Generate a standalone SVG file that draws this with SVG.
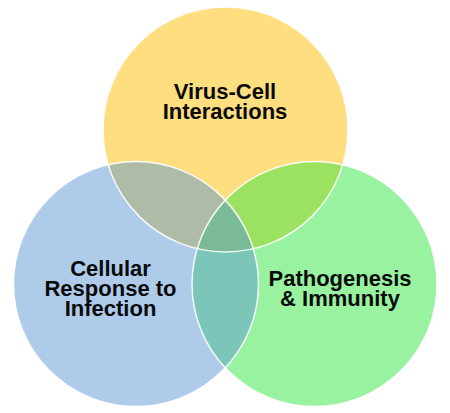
<svg xmlns="http://www.w3.org/2000/svg" width="450" height="413" viewBox="0 0 450 413">
<style>
.lbl{font-family:"Liberation Sans",Arial,sans-serif;font-weight:bold;font-size:22px;fill:#0a0a0a;text-anchor:middle}
.edge{fill:none;stroke:#ffffff;stroke-width:1.5;stroke-opacity:0.9}
</style>
<defs>
<clipPath id="cY"><circle cx="225.5" cy="129.5" r="122.5"/></clipPath>
<clipPath id="cB"><circle cx="136" cy="284" r="122.5"/></clipPath>
<clipPath id="cG"><circle cx="314.5" cy="284" r="122.5"/></clipPath>
</defs>
<rect width="450" height="413" fill="#ffffff"/>
<g id="node-virus-cell">
<circle cx="225.5" cy="129.5" r="122.5" fill="#FFDE80"/>
</g>
<g id="node-cellular-response">
<circle cx="136" cy="284" r="122.5" fill="#AECBEA"/>
</g>
<g id="node-pathogenesis">
<circle cx="314.5" cy="284" r="122.5" fill="#98F2A0"/>
</g>
<g id="overlaps">
<g clip-path="url(#cY)"><circle cx="136" cy="284" r="122.5" fill="#AEBBA7"/></g>
<g clip-path="url(#cY)"><circle cx="314.5" cy="284" r="122.5" fill="#9AE260"/></g>
<g clip-path="url(#cB)"><circle cx="314.5" cy="284" r="122.5" fill="#7BC6B9"/></g>
<g clip-path="url(#cY)"><g clip-path="url(#cB)"><circle cx="314.5" cy="284" r="122.5" fill="#7BBA96"/></g></g>
</g>
<g id="edges">
<circle class="edge" cx="225.5" cy="129.5" r="122.5"/>
<circle class="edge" cx="136" cy="284" r="122.5"/>
<circle class="edge" cx="314.5" cy="284" r="122.5"/>
</g>
<g id="labels">
<text class="lbl" x="225" y="99">Virus-Cell</text>
<text class="lbl" x="225" y="119">Interactions</text>
<text class="lbl" x="110.5" y="276">Cellular</text>
<text class="lbl" x="110.5" y="296">Response to</text>
<text class="lbl" x="110.5" y="316">Infection</text>
<text class="lbl" x="340" y="286">Pathogenesis</text>
<text class="lbl" x="340" y="306">&amp; Immunity</text>
</g>
</svg>
